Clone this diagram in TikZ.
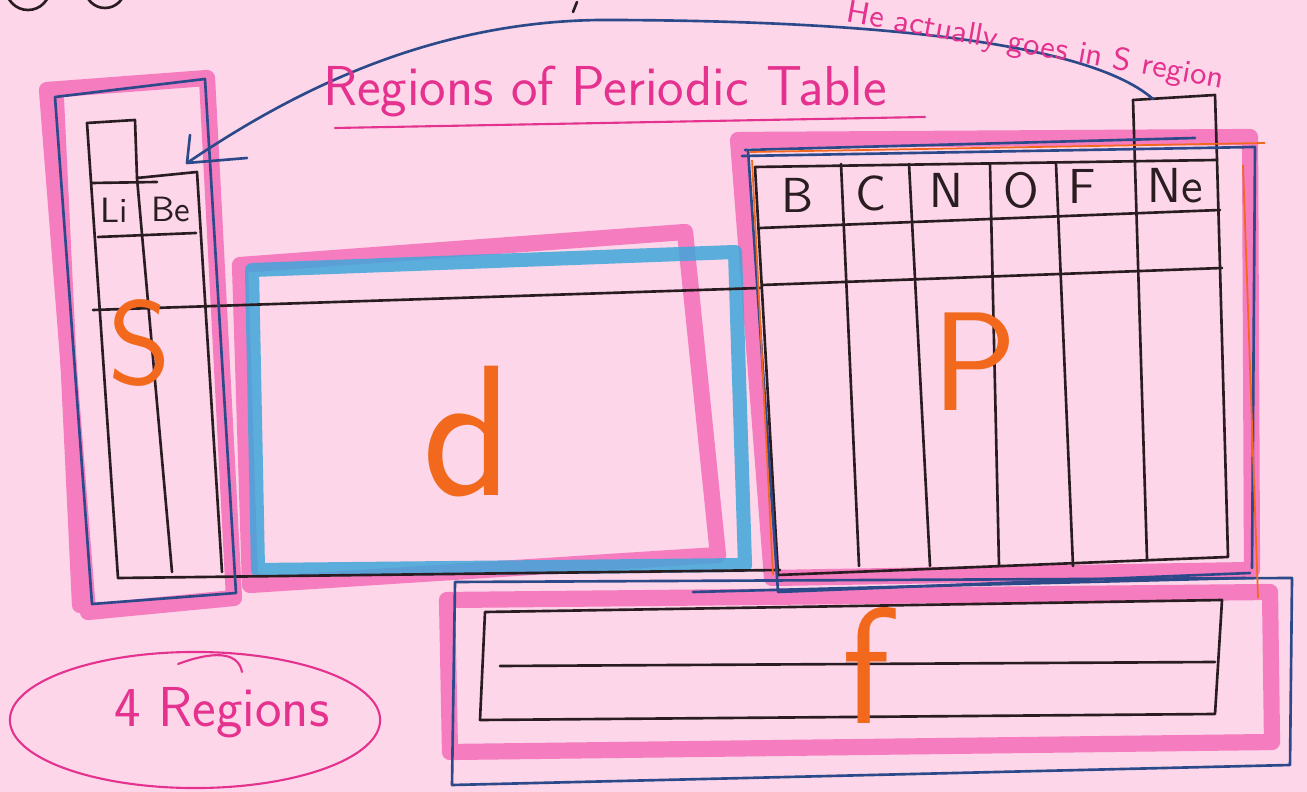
\documentclass[tikz,border=0pt]{standalone}
\usepackage{fontspec}
\usepackage{tikz}
\usetikzlibrary{positioning,calc}
\definecolor{paper}{HTML}{FDD6E9}
\definecolor{hlpink}{HTML}{F57CBF}
\definecolor{hlblue}{HTML}{3FA6DA}
\definecolor{penblue}{HTML}{2C4A8A}
\definecolor{penblack}{HTML}{2A1D22}
\definecolor{penorange}{HTML}{F2681C}
\definecolor{penmag}{HTML}{E4328E}

\begin{document}
\begin{tikzpicture}[x=0.01cm,y=-0.01cm,
    every node/.style={inner sep=0pt},
    hlp/.style={draw=hlpink, line width=4.6pt, line join=round, line cap=round},
    hlb/.style={draw=hlblue, line width=4pt, line join=round, opacity=.85},
    ink/.style={draw=penblack, line width=0.75pt, line join=round, line cap=round},
    bink/.style={draw=penblue, line width=0.75pt, line join=round, line cap=round},
    oink/.style={draw=penorange, line width=0.5pt},
    mink/.style={draw=penmag, line width=0.6pt, line cap=round},
    elem/.style={font=\sffamily\fontsize{14}{14}\selectfont, text=penblack},
    small elem/.style={font=\sffamily\fontsize{10}{10}\selectfont, text=penblack},
    blk/.style={font=\sffamily\fontsize{#1}{#1}\selectfont, text=penorange},
    note/.style={font=\sffamily\fontsize{#1}{#1}\selectfont, text=penmag}]
  \useasboundingbox (0,0) rectangle (1307,792);
  \clip (0,0) rectangle (1307,792);
  \fill[paper] (0,0) rectangle (1307,792);

  % highlighter
  \draw[hlp] (47,90) -- (207,78) -- (234,598) -- (88,612) -- cycle;
  \draw[hlp] (56,100) -- (80,605);
  \draw[hlp] (240,265) -- (685,232) -- (718,555) -- (250,585) -- cycle;
  \draw[hlp] (738,140) -- (1250,137) -- (1252,570) -- (772,578) -- cycle;
  \draw[hlp] (447,600) -- (1270,592) -- (1272,742) -- (450,752) -- cycle;
  \draw[hlb] (252,270) -- (735,252) -- (745,565) -- (258,570) -- cycle;

  % s block grid
  \draw[ink] (87,123) -- (135,120) -- (137,178) -- (197,172) -- (222,572);
  \draw[ink] (87,123) -- (118,578);
  \draw[ink] (137,178) -- (172,572);
  \draw[ink] (92,183) -- (157,182);
  \draw[ink] (98,237) -- (196,233);
  \draw[ink] (93,310) -- (760,288);
  \draw[ink] (118,578) -- (780,570);
  \node[small elem] (Li) at (114,210) {Li};
  \node[small elem] (Be) at (171,210) {Be};

  % p block grid
  \draw[ink] (1133,100) -- (1215,95) -- (1217,160);
  \draw[ink] (755,167) -- (1217,160) -- (1228,557) -- (778,575) -- cycle;
  \foreach \xa/\xb in {841/859, 909/930, 990/999, 1056/1073}
    \draw[ink] (\xa,164) -- (\xb,566);
  \draw[ink] (1133,100) -- (1147,559);
  \draw[ink] (760,228) -- (1220,210);
  \draw[ink] (762,285) -- (1222,268);
  \foreach \el/\x/\y in {B/797/195, C/871/193, N/946/190, O/1021/190, F/1082/186, Ne/1175/186}
    \node[elem] (\el) at (\x,\y) {\el};

  % pen outlines
  \draw[bink] (55,97) -- (205,79) -- (236,593) -- (92,604) -- cycle;
  \draw[bink] (745,150) -- (1195,138);
  \draw[bink] (742,156) -- (1255,147) -- (1252,568);
  \draw[bink] (748,150) -- (778,592) -- (1250,573);
  \draw[bink] (693,592) -- (1245,578);
  \draw[bink] (455,582) -- (1292,578) -- (1290,765) -- (452,785) -- cycle;
  \draw[oink] (750,152) -- (1265,143);
  \draw[oink] (752,160) -- (773,575);
  \draw[oink] (1243,165) -- (1258,598);

  % f block grid
  \draw[ink] (485,612) -- (1222,600) -- (1215,714) -- (480,720) -- cycle;
  \draw[ink] (500,666) -- (1215,662);

  % He arrow
  \coordinate (hebox) at (1153,99);
  \coordinate (tip) at (187,163);
  \coordinate (barbup) at (190,135);
  \coordinate (barbright) at (247,158);
  \draw[bink] (hebox) .. controls (1080,35) and (820,20) .. (600,20)
    .. controls (420,22) and (280,100) .. (tip);
  \draw[bink] (barbup) -- (tip) -- (barbright);

  % labels
  \node[note=16] (title) at (605,92) {Regions of Periodic Table};
  \draw[mink] (335,128) -- (925,117);
  \node[note=9, rotate=-10] (henote) at (1035,47) {He actually goes in S region};
  \draw[mink] (195,720) ellipse [x radius=1.85cm, y radius=0.68cm];
  \draw[mink] (178,664) .. controls (210,652) and (238,650) .. (242,672);
  \node[note=16] (count) at (222,713) {4 Regions};

  \node[blk=34] (sblk) at (140,343) {S};
  \node[blk=53] (dblk) at (468,432) {d};
  \node[blk=40] (pblk) at (975,362) {P};
  \node[blk=47] (fblk) at (866,665) {f};

  % cut-off marks at the top edge
  \draw[ink] (28,-12) circle [radius=0.22cm];
  \draw[ink] (105,-12) circle [radius=0.2cm];
  \draw[ink] (577,2) -- (573,12);
\end{tikzpicture}
\end{document}
